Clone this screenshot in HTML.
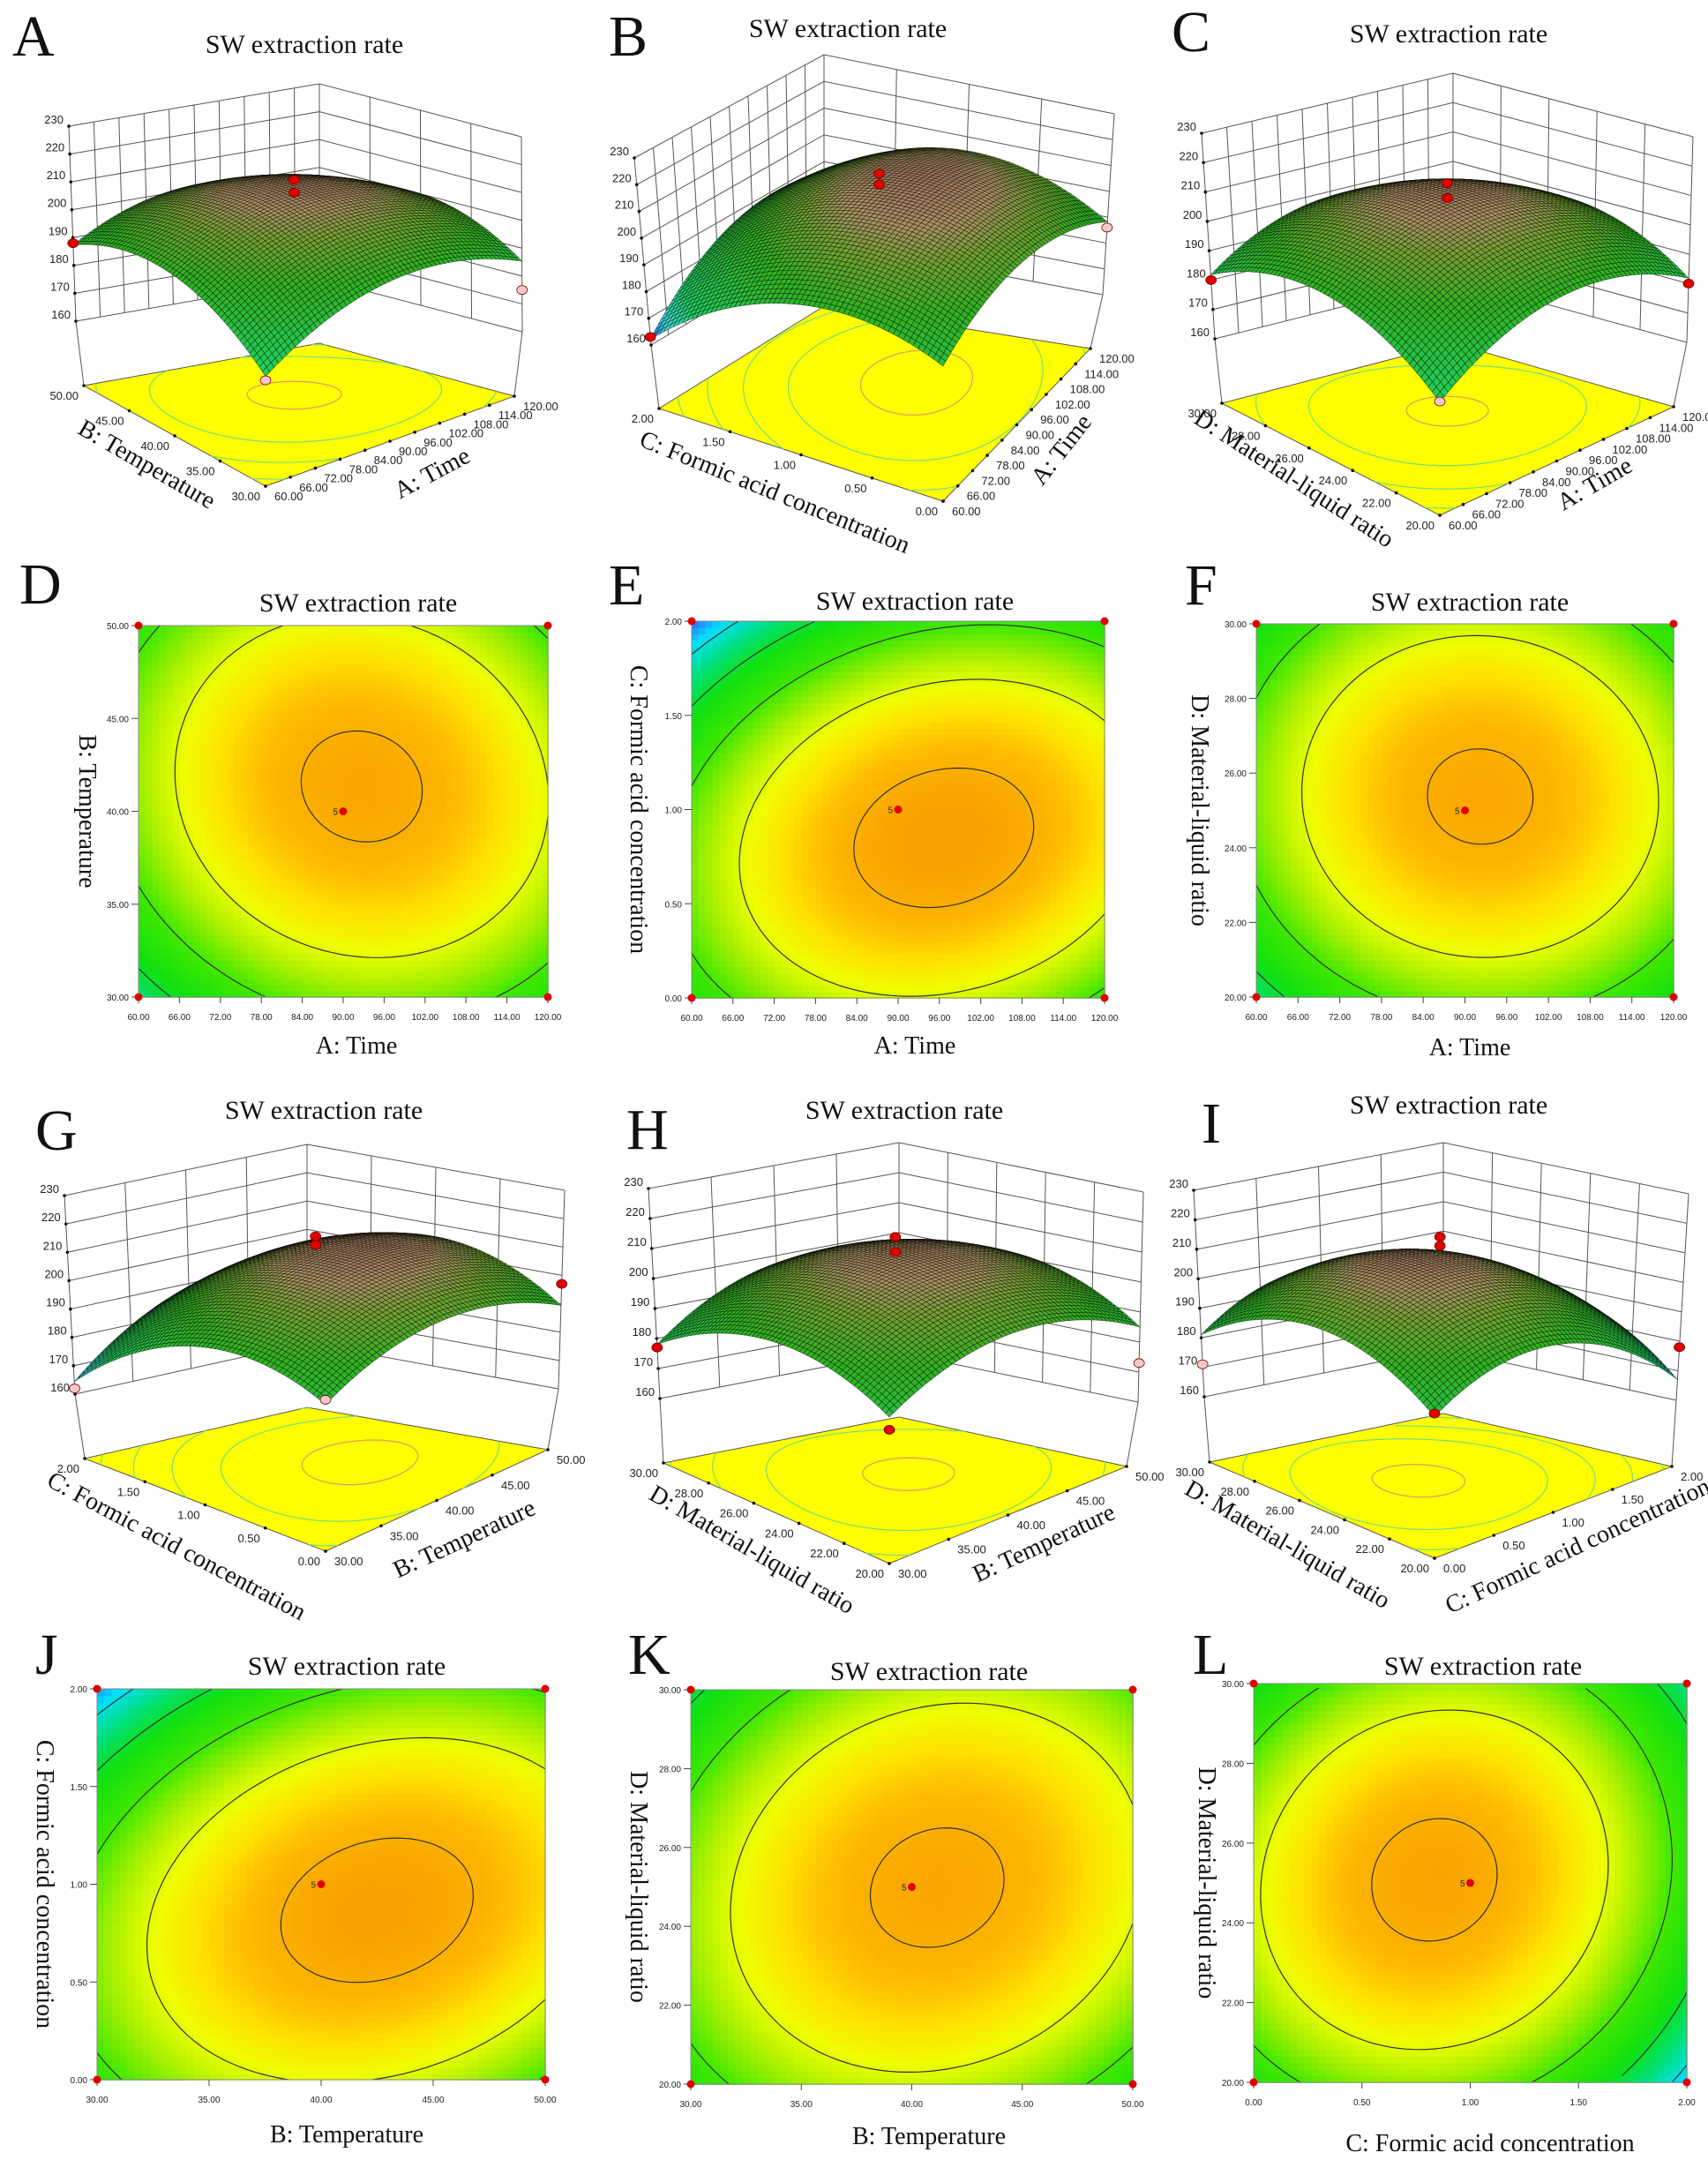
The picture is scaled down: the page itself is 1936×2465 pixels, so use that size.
<!DOCTYPE html>
<html><head><meta charset="utf-8"><title>SW extraction rate response surfaces</title>
<style>
html,body{margin:0;padding:0;background:#fff;}
svg{display:block;font-family:"Liberation Serif",serif;}
.tk{font-family:"Liberation Sans",sans-serif;font-size:10px;fill:#222;}
.tk3{font-family:"Liberation Sans",sans-serif;font-size:13px;fill:#222;}
</style></head>
<body>
<svg id="fig" xmlns="http://www.w3.org/2000/svg" width="1936" height="2465" viewBox="0 0 1936 2465">
<rect width="1936" height="2465" fill="#fff"/>
</svg>
<script>
// ---- model data (coded units, one entry per factor pair) ----
const pairNames = ['time-temp','time-formic','time-ratio','temp-formic','temp-ratio','formic-ratio'];
const b0  = [210.8, 211.2, 210.8, 210.9, 211, 211];
const bX  = [2.75, 6.5, 2.25, 6.75, 3, -6];
const bY  = [3.75, -6.5, 2.25, -5.75, -0.5, 1];
const bXX = [-13.5, -13, -15, -12, -13, -18];
const bYY = [-13.25, -18, -14.75, -16.25, -13, -16];
const bXY = [-2.25, 5, -0.75, 5.75, 3.5, 3];
const contourLevels = [170, 180, 190, 200, 210];
// tick labels
const timeTicks = ['60.00','66.00','72.00','78.00','84.00','90.00','96.00','102.00','108.00','114.00','120.00'];
const tempTicks = ['30.00','35.00','40.00','45.00','50.00'];
const formicTicks = ['0.00','0.50','1.00','1.50','2.00'];
const ratioTicks = ['20.00','22.00','24.00','26.00','28.00','30.00'];
const zTicks = [160,170,180,190,200,210,220,230];
// design points shown on 3D plots
const dpPair = [0,0,0,0,0, 1,1,1,1, 2,2,2,2,2, 3,3,3,3,3, 4,4,4,4,4, 5,5,5,5,5];
const dpU    = [0.5,0.5,0,1,0, 0.5,0.5,0,1, 0.5,0.5,0,1,0, 0.5,0.5,0,1,0, 0.5,0.5,0,1,0, 0.5,0.5,0,1,0];
const dpV    = [0.5,0.5,1,0,0, 0.5,0.5,1,0, 0.5,0.5,1,0,0, 0.5,0.5,1,0,0, 0.5,0.5,1,0,0, 0.5,0.5,1,0,0];
const dpZ    = [216,211.5,188,175,174, 218,214,163,186, 217,212,180,180,176, 218,215,162,197,189, 218,213,177,173,182, 218,215,171,178,186];
const dpKind = ['r','r','r','p','p', 'r','r','r','p', 'r','r','r','r','p', 'r','r','p','r','p', 'r','r','r','p','r', 'r','r','p','r','r'];

const NS='http://www.w3.org/2000/svg';
const svg=document.getElementById('fig');
function el(tag,attrs,parent){const e=document.createElementNS(NS,tag);for(const k in attrs)e.setAttribute(k,attrs[k]);(parent||svg).appendChild(e);return e;}
function txt(s,attrs,parent){const e=el('text',attrs,parent);e.textContent=s;return e;}
function model(k,x,y){return b0[k]+bX[k]*x+bY[k]*y+bXX[k]*x*x+bYY[k]*y*y+bXY[k]*x*y;}
function hex2(c){return [parseInt(c.substr(1,2),16),parseInt(c.substr(3,2),16),parseInt(c.substr(5,2),16)];}
function ramp(stops,z){if(z<=stops[0][0])return stops[0][1];for(let i=1;i<stops.length;i++){if(z<=stops[i][0]){const t=(z-stops[i-1][0])/(stops[i][0]-stops[i-1][0]);const a=hex2(stops[i-1][1]),b=hex2(stops[i][1]);return 'rgb('+a.map((v,j)=>Math.round(v+(b[j]-v)*t)).join(',')+')';}}return stops[stops.length-1][1];}
const heatStops=[[163,'#3070ff'],[168,'#00e0ff'],[175,'#00e080'],[182,'#10e010'],[190,'#40e800'],[196,'#a8f000'],[201,'#f0ff00'],[205,'#ffe000'],[208,'#ffbe00'],[212,'#f8a000']];
const surfStops=[[163,'#3070e0'],[168,'#40e0e0'],[176,'#20d060'],[195,'#30b020'],[204,'#70a030'],[209,'#a89060'],[214,'#a07060']];
const tickSets={time:timeTicks,temp:tempTicks,formic:formicTicks,ratio:ratioTicks};

function contourSegs(k,level,N){
  const segs=[];const g=[];
  for(let i=0;i<=N;i++){g[i]=[];for(let j=0;j<=N;j++)g[i][j]=model(k,-1+2*i/N,-1+2*j/N);}
  for(let i=0;i<N;i++)for(let j=0;j<N;j++){
    const c=[[i,j],[i+1,j],[i+1,j+1],[i,j+1]];const pts=[];
    for(let e=0;e<4;e++){const a=c[e],b=c[(e+1)%4];const va=g[a[0]][a[1]],vb=g[b[0]][b[1]];
      if((va-level)*(vb-level)<0){const t=(level-va)/(vb-va);pts.push([-1+2*(a[0]+(b[0]-a[0])*t)/N,-1+2*(a[1]+(b[1]-a[1])*t)/N]);}}
    if(pts.length>=2)segs.push([pts[0],pts[1]]);if(pts.length==4)segs.push([pts[2],pts[3]]);
  }
  return segs;
}
function bil(c,u,v){return [c.F[0]*(1-u)*(1-v)+c.R[0]*u*(1-v)+c.L[0]*(1-u)*v+c.B[0]*u*v, c.F[1]*(1-u)*(1-v)+c.R[1]*u*(1-v)+c.L[1]*(1-u)*v+c.B[1]*u*v];}

const panels3D=[
 {id:'A',k:0,lo:{F:[301,478],R:[592,376],L:[86,364],B:[362,316]},hi:{F:[301,243],R:[591,155],L:[78,143],B:[362,95]},floor:{F:[301,551],R:[583,449],L:[95,437]},u:'time',v:'temp',uT:'A: Time',vT:'B: Temperature',uTP:[494,544,-28],vTP:[162,534,30],letter:[14,63],title:[345,60]},
 {id:'B',k:1,lo:{F:[1069,496],R:[1250,334],L:[738,391],B:[934,274]},hi:{F:[1069,271],R:[1263,129],L:[719,179],B:[934,62]},floor:{F:[1069,568],R:[1236,395],L:[747,463]},u:'time',v:'formic',uT:'A: Time',vT:'C: Formic acid concentration',uTP:[1210,515,-52],vTP:[875,566,22],letter:[690,63],title:[961,42]},
 {id:'C',k:2,lo:{F:[1632,511],R:[1912,388],L:[1377,384],B:[1647,316]},hi:{F:[1632,266],R:[1919,155],L:[1362,151],B:[1647,83]},floor:{F:[1632,584],R:[1897,461],L:[1385,457]},u:'time',v:'ratio',uT:'A: Time',vT:'D: Material-liquid ratio',uTP:[1812,556,-30],vTP:[1462,550,33],letter:[1328,58],title:[1642,48]},
 {id:'G',k:3,lo:{F:[369,1685],R:[633,1574],L:[85,1580],B:[348,1522]},hi:{F:[369,1447],R:[640,1349],L:[73,1355],B:[348,1297]},floor:{F:[369,1758],R:[621,1643],L:[96,1653]},u:'temp',v:'formic',uT:'B: Temperature',vT:'C: Formic acid concentration',uTP:[530,1752,-25],vTP:[196,1760,28],letter:[40,1303],title:[367,1268]},
 {id:'H',k:4,lo:{F:[1008,1699],R:[1290,1589],L:[748,1585],B:[1019,1533]},hi:{F:[1008,1449],R:[1296,1351],L:[735,1347],B:[1019,1295]},floor:{F:[1008,1772],R:[1277,1662],L:[752,1658]},u:'temp',v:'ratio',uT:'B: Temperature',vT:'D: Material-liquid ratio',uTP:[1187,1757,-25],vTP:[848,1764,30],letter:[710,1302],title:[1025,1268]},
 {id:'I',k:5,lo:{F:[1626,1693],R:[1900,1587],L:[1365,1583],B:[1636,1529]},hi:{F:[1626,1448],R:[1914,1353],L:[1353,1349],B:[1636,1295]},floor:{F:[1626,1766],R:[1895,1662],L:[1371,1657]},u:'formic',v:'ratio',uT:'C: Formic acid concentration',vT:'D: Material-liquid ratio',uTP:[1792,1760,-25],vTP:[1455,1758,30],letter:[1362,1295],title:[1642,1262]}
];

panels3D.forEach(P=>{
  const g=el('g',{});
  
  
  const lt=txt(P.id,{x:P.letter[0],y:P.letter[1],'font-size':66,fill:'#111'},g);
  
  
  const tt=txt('SW extraction rate',{x:P.title[0],y:P.title[1],'font-size':30,'text-anchor':'middle',fill:'#111'},g);
  
  
  const fl=P.floor;fl.B=[P.lo.B[0],P.lo.B[1]+73];
  const pt=(u,v,z)=>{const a=bil(P.lo,u,v),b=bil(P.hi,u,v),t=(z-160)/70;return [a[0]+(b[0]-a[0])*t,a[1]+(b[1]-a[1])*t];};
  const wall=el('g',{stroke:'#555','stroke-width':1,fill:'none'},g);
  
  
  let d='';
  zTicks.forEach(z=>{const a=pt(0,1,z),b=pt(1,1,z),c=pt(1,0,z);d+='M'+a+'L'+b+'L'+c;});
  const nu=tickSets[P.u].length-1,nv=tickSets[P.v].length-1;
  for(let i=0;i<=nu;i++){const a=pt(i/nu,1,160),b=pt(i/nu,1,230);d+='M'+a+'L'+b;}
  for(let i=0;i<=nv;i++){const a=pt(1,i/nv,160),b=pt(1,i/nv,230);d+='M'+a+'L'+b;}
  d+='M'+pt(0,1,160)+'L'+fl.L+'M'+pt(1,0,160)+'L'+fl.R;
  el('path',{d:d},wall);
  zTicks.forEach(z=>{const a=pt(0,1,z);const t=txt(String(z),{x:a[0]-6,y:a[1]-3,'text-anchor':'end',class:'tk3'},g);
    
    
    el('circle',{cx:a[0],cy:a[1],r:1.8,fill:'#111'},g);});
  const fp=el('polygon',{points:[fl.F,fl.R,fl.B,fl.L].join(' '),fill:'#ffff00',stroke:'#555','stroke-width':1},g);
  
  
  contourLevels.forEach(lv=>{
    let dd='';contourSegs(P.k,lv,40).forEach(s=>{const a=bil(fl,(s[0][0]+1)/2,(s[0][1]+1)/2),b=bil(fl,(s[1][0]+1)/2,(s[1][1]+1)/2);dd+='M'+a[0].toFixed(1)+','+a[1].toFixed(1)+'L'+b[0].toFixed(1)+','+b[1].toFixed(1);});
    const cl=el('path',{d:dd,stroke:lv>=210?'#e0a060':'#80e070','stroke-width':1.3,fill:'none'},g);
    
    
  });
  tickSets[P.v].forEach((s,i)=>{const v=i/nv;const a=bil(fl,0,v);el('circle',{cx:a[0],cy:a[1],r:1.8,fill:'#111'},g);
    const t=txt(s,{x:a[0]-6,y:a[1]+16,'text-anchor':'end',class:'tk3'},g);
    
    });
  tickSets[P.u].forEach((s,i)=>{const u=i/nu;const a=bil(fl,u,0);el('circle',{cx:a[0],cy:a[1],r:1.8,fill:'#111'},g);
    const t=txt(s,{x:a[0]+10,y:a[1]+16,'text-anchor':'start',class:'tk3'},g);
    
    });
  const ut=txt(P.uT,{x:P.uTP[0],y:P.uTP[1],'font-size':28,'text-anchor':'middle',fill:'#111',transform:'rotate('+P.uTP[2]+' '+P.uTP[0]+' '+P.uTP[1]+')'},g);
  
  
  const vt=txt(P.vT,{x:P.vTP[0],y:P.vTP[1],'font-size':28,'text-anchor':'middle',fill:'#111',transform:'rotate('+P.vTP[2]+' '+P.vTP[0]+' '+P.vTP[1]+')'},g);
  
  
  const N=60;const quads=[];
  for(let i=0;i<N;i++)for(let j=0;j<N;j++)quads.push([i,j]);
  quads.sort((a,b)=>(b[0]+b[1])-(a[0]+a[1]));
  const sg=el('g',{stroke:'rgba(0,0,0,0.6)','stroke-width':0.6},g);
  
  
  const zf=(i,j)=>model(P.k,-1+2*i/N,-1+2*j/N);
  quads.forEach(q=>{const i=q[0],j=q[1];
    const zs=[zf(i,j),zf(i+1,j),zf(i+1,j+1),zf(i,j+1)];
    const ps=[pt(i/N,j/N,zs[0]),pt((i+1)/N,j/N,zs[1]),pt((i+1)/N,(j+1)/N,zs[2]),pt(i/N,(j+1)/N,zs[3])];
    const zm=(zs[0]+zs[1]+zs[2]+zs[3])/4;
    el('polygon',{points:ps.map(a=>a[0].toFixed(1)+','+a[1].toFixed(1)).join(' '),fill:ramp(surfStops,zm)},sg);
  });
  for(let n=0;n<dpPair.length;n++){if(dpPair[n]!==P.k)continue;
    const a=pt(dpU[n],dpV[n],dpZ[n]);
    const c=el('ellipse',{cx:a[0],cy:a[1],rx:6,ry:5,fill:dpKind[n]=='r'?'#e00000':'#f4c8c8',stroke:'#700','stroke-width':0.8},g);
    
    }
});

const panels2D=[
 {id:'D',k:0,x0:157,y0:709,x1:621,y1:1130,xt:'time',yt:'temp',xT:'A: Time',yT:'B: Temperature',xTP:[404,1194],yTX:90,letter:[22,684],title:[406,693]},
 {id:'E',k:1,x0:784,y0:704,x1:1252,y1:1131,xt:'time',yt:'formic',xT:'A: Time',yT:'C: Formic acid concentration',xTP:[1037,1194],yTX:715,letter:[690,685],title:[1037,691]},
 {id:'F',k:2,x0:1424,y0:707,x1:1897,y1:1130,xt:'time',yt:'ratio',xT:'A: Time',yT:'D: Material-liquid ratio',xTP:[1666,1196],yTX:1351,letter:[1343,685],title:[1666,692]},
 {id:'J',k:3,x0:110,y0:1914,x1:618,y1:2357,xt:'temp',yt:'formic',xT:'B: Temperature',yT:'C: Formic acid concentration',xTP:[393,2428],yTX:42,letter:[40,1897],title:[393,1898]},
 {id:'K',k:4,x0:783,y0:1915,x1:1284,y1:2362,xt:'temp',yt:'ratio',xT:'B: Temperature',yT:'D: Material-liquid ratio',xTP:[1053,2430],yTX:715,letter:[712,1897],title:[1053,1904]},
 {id:'L',k:5,x0:1421,y0:1908,x1:1912,y1:2360,xt:'formic',yt:'ratio',xT:'C: Formic acid concentration',yT:'D: Material-liquid ratio',xTP:[1689,2438],yTX:1359,letter:[1352,1897],title:[1681,1898]}
];
panels2D.forEach(P=>{
  const g=el('g',{});
  
  
  const lt=txt(P.id,{x:P.letter[0],y:P.letter[1],'font-size':66,fill:'#111'},g);
  
  
  const tt=txt('SW extraction rate',{x:P.title[0],y:P.title[1],'font-size':30,'text-anchor':'middle',fill:'#111'},g);
  
  
  const W=P.x1-P.x0,H=P.y1-P.y0;
  const sx=x=>P.x0+(x+1)/2*W, sy=y=>P.y1-(y+1)/2*H;
  const N=60;const hg=el('g',{},g);
  
  
  for(let i=0;i<N;i++)for(let j=0;j<N;j++){
    const x=-1+2*(i+0.5)/N,y=-1+2*(j+0.5)/N;
    el('rect',{x:(P.x0+i*W/N).toFixed(1),y:(P.y1-(j+1)*H/N).toFixed(1),width:(W/N+0.8).toFixed(1),height:(H/N+0.8).toFixed(1),fill:ramp(heatStops,model(P.k,x,y))},hg);
  }
  contourLevels.forEach(lv=>{
    let dd='';contourSegs(P.k,lv,60).forEach(s=>{dd+='M'+sx(s[0][0]).toFixed(1)+','+sy(s[0][1]).toFixed(1)+'L'+sx(s[1][0]).toFixed(1)+','+sy(s[1][1]).toFixed(1);});
    const cl=el('path',{d:dd,stroke:'#333','stroke-width':1.2,fill:'none'},g);
    
    
  });
  el('rect',{x:P.x0,y:P.y0,width:W,height:H,fill:'none',stroke:'#888','stroke-width':1},g);
  const xs=tickSets[P.xt],ys=tickSets[P.yt];
  xs.forEach((s,i)=>{const x=P.x0+i/(xs.length-1)*W;el('line',{x1:x,y1:P.y1,x2:x,y2:P.y1+7,stroke:'#444'},g);
    const t=txt(s,{x:x,y:P.y1+26,'text-anchor':'middle',class:'tk'},g);
    
    });
  ys.forEach((s,i)=>{const y=P.y1-i/(ys.length-1)*H;el('line',{x1:P.x0-8,y1:y,x2:P.x0,y2:y,stroke:'#444'},g);
    const t=txt(s,{x:P.x0-11,y:y+4,'text-anchor':'end',class:'tk'},g);
    
    });
  const xt=txt(P.xT,{x:P.xTP[0],y:P.xTP[1],'font-size':28,'text-anchor':'middle',fill:'#111'},g);
  
  
  const yc=(P.y0+P.y1)/2;
  const yt=txt(P.yT,{x:P.yTX,y:yc,'font-size':28,'text-anchor':'middle',fill:'#111',transform:'rotate(90 '+P.yTX+' '+yc+')'},g);
  
  
  [[-1,-1],[1,-1],[-1,1],[1,1],[0,0]].forEach(c=>{
    const d=el('circle',{cx:sx(c[0]),cy:sy(c[1]),r:4.5,fill:'#e00000'},g);
    
    });
  txt('5',{x:sx(0)-6,y:sy(0)+4,'text-anchor':'end',class:'tk'},g);
});
</script>
</body></html>
